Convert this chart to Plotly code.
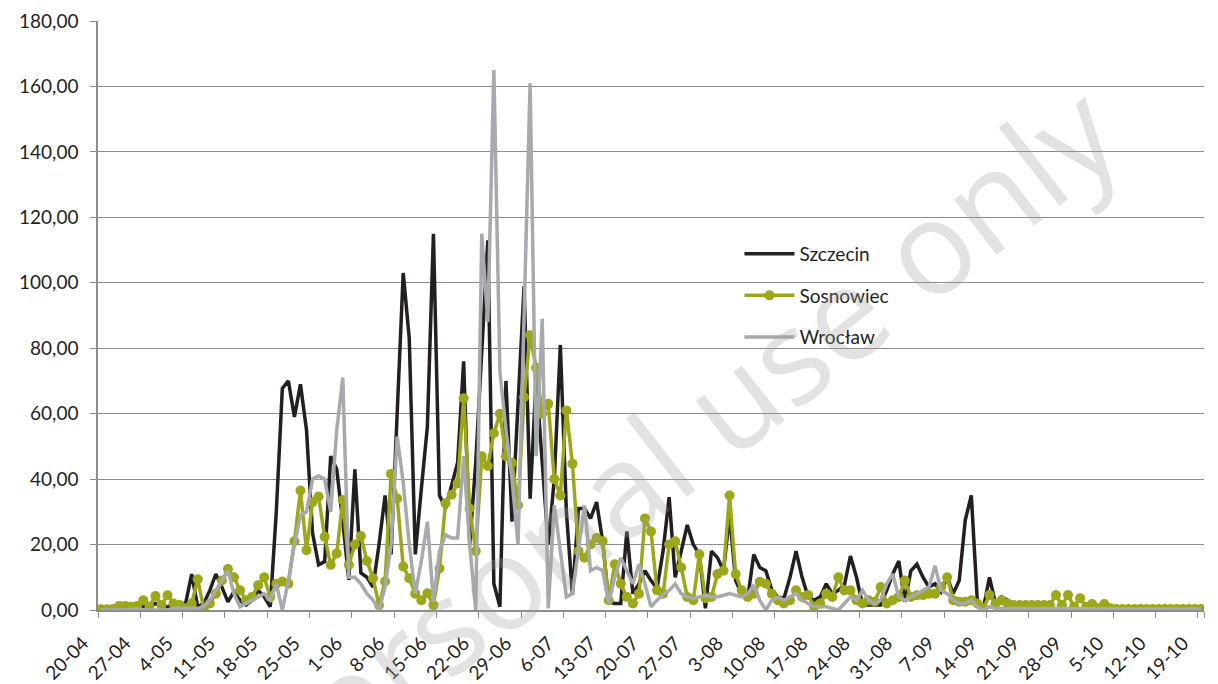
import pandas as pd
import plotly.graph_objects as go

# categories: one per day, 20-04 .. 19-10
dates = pd.date_range("2010-04-20", "2010-10-19", freq="D")
days = [f"{d.day}-{d.month:02d}" for d in dates]
tick_labels = days[::7]

szczecin = [0.5,0.5,0.5,1,1,0.5,1,1,1,2,1,1,1.5,2,
    2,11,1,2,6,11,7,2.5,5.6,3,1.5,3,6,4,1,30,67.7,70,59,69,55,23.5,13.8,14.8,47,43,27,9.2,43,11.3,
    10,7,20,35,17,58,103,83,17,37,56,115,35,31,38,45,76,20,45,80,113,8,1,70,27,63,99,34,71,45,20,40,81,30,
    4.6,31,31,28,33,21,2.5,2,2,24,5,8,12,9,6.6,18,34.5,10,18,26,20,17,0.5,18,16,12,29,9,5,3.6,17,13,12,6,4,
    3.6,10,18,10,4,3,4,8,5,6,7.6,16.5,10,1.5,1.5,1.5,1.5,6,11,15,2.5,12,14,10,7,8,5.6,10,5,9,27.5,35,2.5,0.5,
    10,2,4,3,2] + [None]*31

sosnowiec = [0.2,0.2,0.3,1.2,1.2,1.0,1.2,3.0,1.0,4.3,1.5,4.5,2.0,1.5,0.5,2,9.4,0.3,2,5,9,12.5,10,6,3,4,7.6,10,4,8,
    8.7,8,21,36.5,18.3,33,34.7,22.4,13.8,17.3,33.6,13.8,20,22.6,15,9.7,1.5,8.7,41.6,34.1,13.3,9.7,5,3,5.1,1.5,
    12.7,32.6,35.2,38.7,64.7,31,18,47,44,54,60,47,45,32,65,84,74,60,63,40,35,61,44.7,18,16,20,22,21,3,14,8,4,2,5,
    28,24,6,5,20,21,13,4,3,17,3.6,4,11,12,35,11,6,4,5,8.6,8,5,3,2,3,6,4,4.6,1,2,5,4,10,6,6,3,2,3,2.5,7,2,3,4,9,
    4,4.5,4.5,5,5,7,10,3,2.5,2.5,3,2,0.5,4.6,2,3,2,1.5,1.5,1.5,1.5,1.5,1.5,1.5,4.6,1.5,4.6,1,3.6,1,1.8,0.5,1.8,0.5] + [0.3]*15

wroclaw = [0,0,0,0,0,0.3,0.3,0,0,0,0,0,0.5,0.5,0.5,0.5,
    0.5,1,3,6,9,12,5,1,2,3,4,5,3,8,0,9,20,29,30,40,41,40,30,55,71,10,10,8,5,3,0,7,20,53,39,20,5,15,27,2.5,18,23,22,
    22,47,20,0,115,88,165,73,55,40,20,90,161,47,89,0.5,32,18,4,5,18,32,12,13,12,2,10,16,12,8,14,8,1,3,4.6,6,8,5,4,
    3.5,4,4.5,4,4,4.5,5,4.5,4,5,7.6,3,0,3,4,3,4,5,3,2,1,1,1,0.5,0,2,4,3,6,3,2,3,8,11,4,3,4,5,6,7,13.5,6,5,3,2,2,3,
    1,0,1,0.5,0.5] + [0.3]*33

series = [
    ("Szczecin", szczecin, "#231f20", False),
    ("Sosnowiec", sosnowiec, "#9da71a", True),
    ("Wrocław", wroclaw, "#a7a9ac", False),
]

font_family = "Lato, 'Open Sans', sans-serif"
text_color = "#231f20"

fig = go.Figure()
for i, (name, vals, color, markers) in enumerate(series):
    fig.add_trace(go.Scatter(
        x=days, y=vals, name=name,
        mode="lines+markers" if markers else "lines",
        line=dict(color=color, width=3.5),
        marker=dict(size=10, color=color),
        legendgroup=f"g{i}",
        connectgaps=False,
    ))

fig.update_layout(
    width=1218, height=684,
    margin=dict(l=90, r=22, t=13, b=82),
    paper_bgcolor="white", plot_bgcolor="white",
    separators=", ",
    font=dict(family=font_family, size=19, color=text_color),
    showlegend=True,
    legend=dict(x=0.58, y=0.637, xanchor="left", yanchor="top",
                bgcolor="rgba(0,0,0,0)", tracegroupgap=14, itemwidth=50,
                font=dict(family=font_family, size=19, color=text_color)),
)

fig.update_xaxes(
    type="category", range=[-0.5, len(days) - 0.5], automargin=False,
    tickmode="array", tickvals=tick_labels, ticktext=tick_labels,
    tickson="boundaries", ticks="outside", ticklen=6, tickcolor="#8c8c8c",
    tickangle=-45, ticklabelstandoff=13, ticklabelshift=-18,
    showgrid=False, showline=True, linecolor="#8c8c8c", linewidth=1.5,
    zeroline=False, tickfont=dict(size=19),
)
fig.update_yaxes(
    range=[0, 180], dtick=20, tickformat=".2f", automargin=False,
    showgrid=True, gridcolor="#8c8c8c", gridwidth=1.2,
    ticks="outside", ticklen=6, tickcolor="#8c8c8c", ticklabelstandoff=8,
    showline=True, linecolor="#8c8c8c", linewidth=1.5, zeroline=False,
    tickfont=dict(size=19),
)

fig.add_annotation(
    text="For personal use only", xref="paper", yref="paper",
    x=0.44, y=0.165, xanchor="center", yanchor="middle",
    showarrow=False, textangle=-38,
    font=dict(family="Open Sans, sans-serif", size=130, color="rgba(160,160,160,0.3)"),
)

fig.write_html("out.html")
